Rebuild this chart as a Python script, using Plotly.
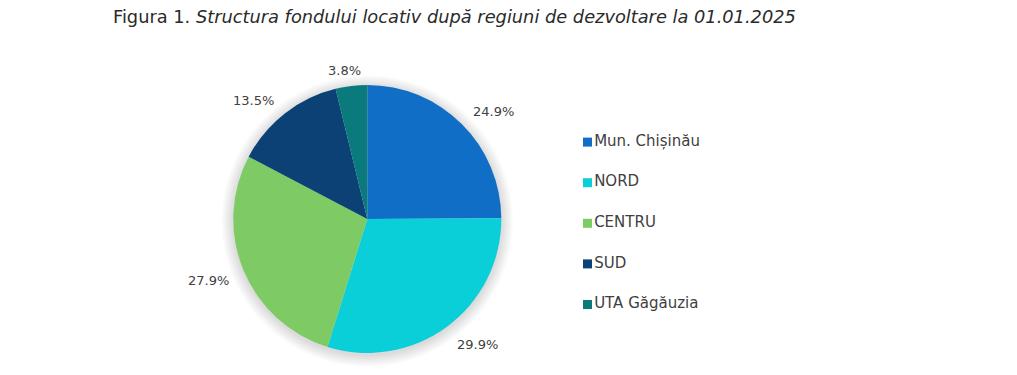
import math
import plotly.graph_objects as go

# ---- data ----
categories = ["Mun. Chișinău", "NORD", "CENTRU", "SUD", "UTA Găgăuzia"]
shares = [24.9, 29.9, 27.9, 13.5, 3.8]
colors = ["#106EC6", "#0BCFD8", "#7ECB65", "#0B4174", "#0B7A7D"]
title_text = "Figura 1. <i>Structura fondului locativ după regiuni de dezvoltare la 01.01.2025</i>"

# ---- layout constants (pixels, page coordinates; body margin removed) ----
W, H = 1017, 375
CX, CY, R = 367.3, 219.0, 134.0
FONT = "DejaVu Sans"
TXT = "#404040"

fig = go.Figure()

fig.add_trace(go.Pie(
    labels=categories, values=shares, sort=False, direction="clockwise", rotation=0,
    marker=dict(colors=colors, line=dict(width=0)),
    textinfo="none", hoverinfo="label+value", showlegend=False,
    domain=dict(x=[(CX - R) / W, (CX + R) / W], y=[(H - CY - R) / H, (H - CY + R) / H]),
))

# percentage labels placed outside along each slice's mid-angle
total = sum(shares)
cum = 0.0
for v in shares:
    mid = (cum + v / 2) / total * 2 * math.pi
    cum += v
    s, c = math.sin(mid), math.cos(mid)
    d = R + 13
    hh = 3 if c > 0 else 7
    dx = s * d + math.copysign(23 * min(1, 2 * abs(s)), s)
    dy = -c * d - math.copysign(hh * min(1, 2 * abs(c)), c)
    fig.add_annotation(
        x=(CX + dx) / W, y=(H - CY - dy) / H, xref="paper", yref="paper",
        text=f"{v:.1f}%", showarrow=False, xanchor="center", yanchor="middle",
        font=dict(family=FONT, size=13, color=TXT),
    )

# custom legend: squares + text through a hidden cartesian axis
LX = 583
fig.add_trace(go.Scatter(
    x=[4.5] * len(categories), y=list(range(len(categories))),
    mode="markers+text", text=categories, textposition="middle right",
    marker=dict(symbol="square", size=9, color=colors),
    textfont=dict(family=FONT, size=15, color=TXT),
    hoverinfo="skip", showlegend=False, cliponaxis=False,
))

# soft shadow around pie
shapes = []
for k in range(12, 0, -1):
    shapes.append(dict(
        type="circle", xref="paper", yref="paper", xsizemode="pixel", ysizemode="pixel",
        xanchor=CX / W, yanchor=(H - CY - 2) / H,
        x0=-(R + k), x1=R + k, y0=-(R + k), y1=R + k,
        fillcolor="rgba(0,0,0,0.012)", line=dict(width=0), layer="below",
    ))

top_px, bot_px = 142.3 - 20.5, 304.3 + 20.5
fig.update_layout(
    width=W, height=H, autosize=False,
    margin=dict(l=0, r=0, t=0, b=0),
    paper_bgcolor="white", plot_bgcolor="rgba(0,0,0,0)",
    showlegend=False, shapes=shapes,
    title=dict(text=title_text, x=113 / W, xanchor="left", xref="paper",
               y=1 - 17 / H, yref="container", yanchor="middle",
               font=dict(family=FONT, size=17.8, color="#2a2a2a")),
    xaxis=dict(domain=[LX / W, 1], range=[0, W - LX], visible=False, fixedrange=True),
    yaxis=dict(domain=[(H - bot_px) / H, (H - top_px) / H], range=[4.5, -0.5],
               visible=False, fixedrange=True),
)

fig.write_html("out.html", config={"displayModeBar": False},
               post_script="document.body.style.margin='0';document.body.style.overflow='hidden';")
